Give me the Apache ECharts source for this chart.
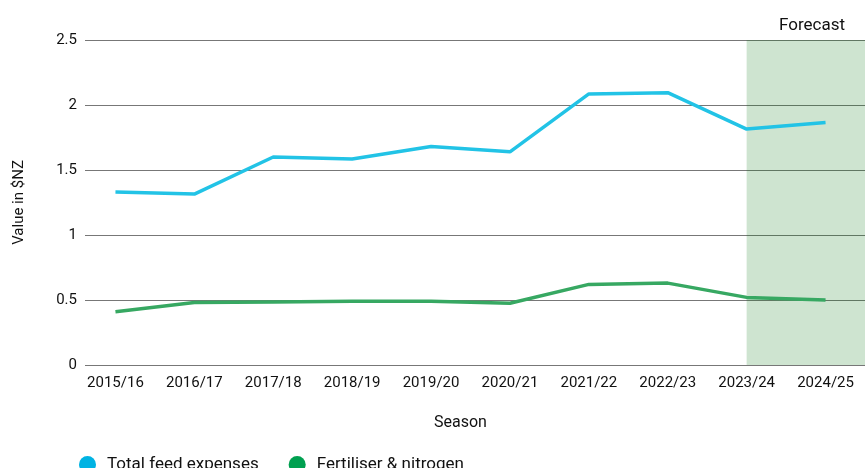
<!DOCTYPE html>
<html>
<head>
<meta charset="utf-8">
<script src="https://cdn.jsdelivr.net/npm/echarts@6/dist/echarts.min.js"></script>
<style>
  html, body { margin: 0; padding: 0; background: #fff; }
  #chart { width: 865px; height: 468px; }
</style>
</head>
<body>
<div id="chart"></div>
<script>
const seasons = ["2015/16", "2016/17", "2017/18", "2018/19", "2019/20", "2020/21", "2021/22", "2022/23", "2023/24", "2024/25"];
const feedExpenses = [1.33, 1.315, 1.6, 1.585, 1.68, 1.64, 2.085, 2.095, 1.815, 1.865];
const fertiliser = [0.41, 0.48, 0.485, 0.49, 0.49, 0.475, 0.62, 0.63, 0.52, 0.5];
const forecastStart = "2023/24";

const font = "Roboto";
const chart = echarts.init(document.getElementById("chart"));

const option = {
  animation: false,
  textStyle: { fontFamily: font },
  title: {
    text: "Forecast",
    right: 15,
    top: 12,
    textStyle: { fontFamily: font, fontSize: 17, fontWeight: "normal", color: "#111" },
  },
  legend: {
    left: 74,
    top: 451,
    icon: "circle",
    itemWidth: 17,
    itemHeight: 17,
    itemGap: 30,
    textStyle: { fontFamily: font, fontSize: 17, color: "#111", padding: [0, 0, 0, 6] },
    data: [
      { name: "Total feed expenses", itemStyle: { color: "#00b3e3" } },
      { name: "Fertiliser & nitrogen", itemStyle: { color: "#00a050" } },
    ],
  },
  grid: [
    // data grid: bands wide enough that points sit where the picture has them
    { left: 76, right: 0, top: 40, bottom: 103 },
    // gridlines and y labels
    { left: 85, right: 0, top: 40, bottom: 103 },
  ],
  xAxis: [
    {
      gridIndex: 0,
      type: "category",
      data: seasons,
      boundaryGap: true,
      axisLine: { show: false },
      axisTick: { show: false },
      axisLabel: { margin: 11, fontSize: 15, color: "#111", fontFamily: font, interval: 0 },
      name: "Season",
      nameLocation: "middle",
      nameGap: 50,
      nameTextStyle: { fontSize: 16, color: "#111", fontFamily: font, padding: [0, 20, 0, 0] },
    },
    {
      gridIndex: 1,
      type: "category",
      data: seasons,
      show: false,
    },
  ],
  yAxis: [
    {
      gridIndex: 0,
      type: "value",
      min: 0,
      max: 2.5,
      interval: 0.5,
      show: false,
    },
    {
      gridIndex: 1,
      type: "value",
      min: 0,
      max: 2.5,
      interval: 0.5,
      axisLine: { show: false },
      axisTick: { show: false },
      axisLabel: { margin: 8, fontSize: 15, color: "#111", fontFamily: font },
      splitLine: { lineStyle: { color: "#777", width: 1 } },
      name: "Value in $NZ",
      nameLocation: "middle",
      nameGap: 58,
      nameTextStyle: { fontSize: 15, color: "#111", fontFamily: font },
    },
  ],
  series: [
    {
      name: "Total feed expenses",
      type: "line",
      xAxisIndex: 0,
      yAxisIndex: 0,
      data: feedExpenses,
      symbol: "none",
      lineStyle: { color: "#22c3e6", width: 3.5 },
      itemStyle: { color: "#22c3e6" },
      markArea: {
        silent: true,
        itemStyle: { color: "rgba(10,120,20,0.2)" },
        data: [[{ xAxis: forecastStart }, {}]],
      },
    },
    {
      name: "Fertiliser & nitrogen",
      type: "line",
      xAxisIndex: 0,
      yAxisIndex: 0,
      data: fertiliser,
      symbol: "none",
      lineStyle: { color: "#37a862", width: 3.5 },
      itemStyle: { color: "#37a862" },
    },
  ],
};

chart.setOption(option);
</script>
</body>
</html>
